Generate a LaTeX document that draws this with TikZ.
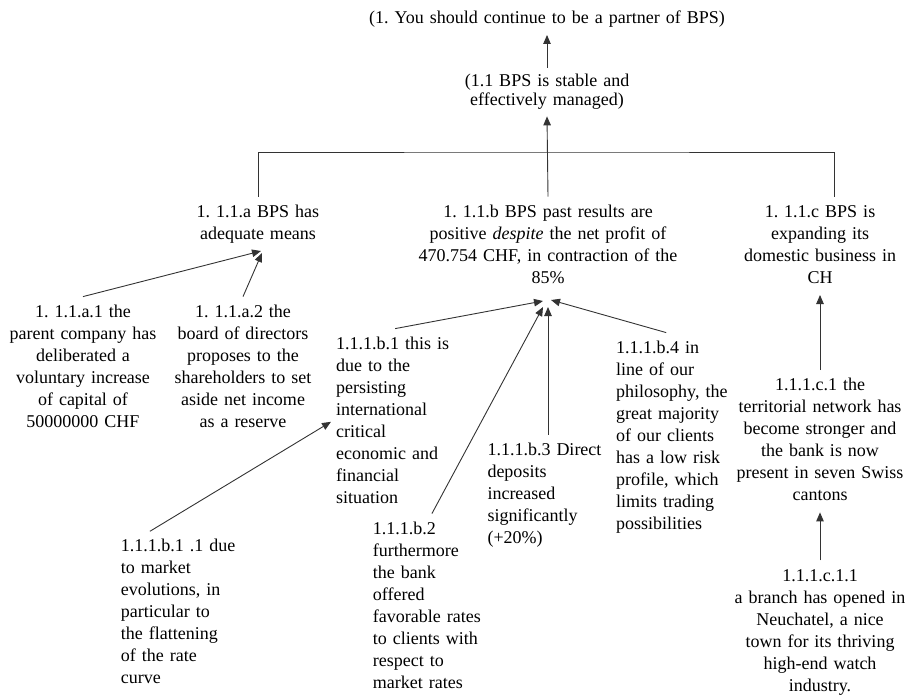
\documentclass[tikz,border=0pt]{standalone}
\usepackage{fontspec}
\setmainfont{Liberation Serif}
\usetikzlibrary{arrows.meta, positioning}
\frenchspacing

\begin{document}
\begin{tikzpicture}[
  x=1pt, y=-1pt,
  >={Triangle[length=9pt, width=7.5pt]},
  every node/.style={font=\fontsize{18}{22}\selectfont, text=black, inner sep=5pt, execute at begin node=\strut, execute at end node=\strut},
  claim/.style={align=center, text width=200pt, anchor=north},
  topclaim/.style={claim, font=\fontsize{18}{19}\selectfont},
  premise/.style={align=left, text width=118pt, anchor=north west},
  link/.style={->, draw=black!80, line width=0.9pt},
  tree/.style={draw=black!80, line width=0.9pt}
]
\useasboundingbox (0,0) rectangle (912,698);

% Main claim
\node[claim, text width=360pt] (goal) at (547,2.6) {(1. You should continue to be a partner of BPS)};
\node[topclaim, below=33pt of goal] (stable) {(1.1 BPS is stable and\\effectively managed)};

% Sub-claims
\node[claim] (adequate) at (258,196.6) {1. 1.1.a BPS has\\adequate means};
\node[claim, text width=280pt] (results) at (548,196.6) {1. 1.1.b BPS past results are\\positive \emph{despite} the net profit of\\470.754 CHF, in contraction of the\\85\%};
\node[claim] (expanding) at (820,196.6) {1. 1.1.c BPS is\\expanding its\\domestic business in\\CH};
\coordinate (fork) at (547,152);

% Premises - a
\node[claim] (capital) at (83,296.6) {1. 1.1.a.1 the\\parent company has\\deliberated a\\voluntary increase\\of capital of\\50000000 CHF};
\node[claim] (reserve) at (243,296.6) {1. 1.1.a.2 the\\board of directors\\proposes to the\\shareholders to set\\aside net income\\as a reserve};

% Premises - b
\node[premise] (crisis) at (331,328.6) {1.1.1.b.1 this is\\due to the\\persisting\\international\\critical\\economic and\\financial\\situation};
\node[premise] (market) at (115.7,531.3) {1.1.1.b.1 .1 due\\to market\\evolutions, in\\particular to\\the flattening\\of the rate\\curve};
\node[premise] (rates) at (367.7,513.6) {1.1.1.b.2\\furthermore\\the bank\\offered\\favorable rates\\to clients with\\respect to\\market rates};
\node[premise] (deposits) at (482.3,434.6) {1.1.1.b.3 Direct\\deposits\\increased\\significantly\\(+20\%)};
\node[premise, text width=116pt] (risk) at (611,332.6) {1.1.1.b.4 in\\line of our\\philosophy, the\\great majority\\of our clients\\has a low risk\\profile, which\\limits trading\\possibilities};

% Premises - c
\node[claim, below=75pt of expanding] (network) {1.1.1.c.1 the\\territorial network has\\become stronger and\\the bank is now\\present in seven Swiss\\cantons};
\node[claim, below=48pt of network] (branch) {1.1.1.c.1.1\\a branch has opened in\\Neuchatel, a nice\\town for its thriving\\high-end watch\\industry.};

% Connections - top
\draw[link] (stable.north) -- (goal.south);
\draw[link] (results.north) -- (stable.south);
\draw[tree] (adequate.north) |- (fork) -| ([xshift=14pt]expanding.north);

% Connections - a
\draw[link] (capital.north) -- ([xshift=3pt]adequate.south);
\draw[link] (reserve.north) -- ([xshift=4pt, yshift=-2pt]adequate.south);

% Connections - b
\draw[link] (crisis.north) -- ([xshift=-5pt, yshift=-6pt]results.south);
\draw[link] (rates.north) -- ([xshift=-5pt, yshift=-12pt]results.south);
\draw[link] (deposits.north -| results.south) -- ([yshift=-12pt]results.south);
\draw[link] ([xshift=-8pt]risk.north) -- ([xshift=3pt, yshift=-5pt]results.south);
\draw[link] ([xshift=-30pt]market.north) -- (crisis.west);

% Connections - c
\draw[link] (network) -- (expanding);
\draw[link] (branch) -- (network);

\end{tikzpicture}
\end{document}
